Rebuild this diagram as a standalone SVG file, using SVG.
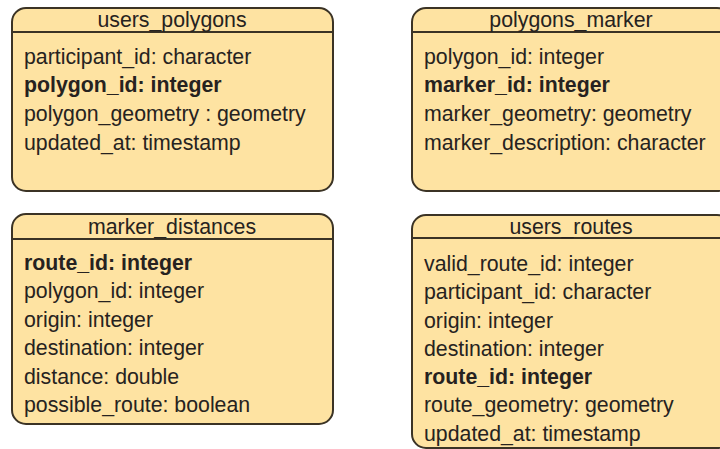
<svg xmlns="http://www.w3.org/2000/svg" width="720" height="449" viewBox="0 0 720 449">
  <style>
    .box { fill: #fee3a2; stroke: #3b3325; stroke-width: 2; }
    .sep { stroke: #3b3325; stroke-width: 2; }
    text { font-family: "Liberation Sans", Arial, sans-serif; font-size: 21.3px; fill: #262220; }
    .title { text-anchor: middle; }
    .key { font-weight: bold; }
  </style>
  <rect width="720" height="449" fill="#ffffff"/>

  <g id="users_polygons">
    <rect class="box" x="12" y="8" width="321" height="183" rx="14" ry="14"/>
    <line class="sep" x1="12" y1="32" x2="333" y2="32"/>
    <text class="title" x="172" y="27">users_polygons</text>
    <text x="24" y="64">participant_id: character</text>
    <text class="key" x="24" y="92">polygon_id: integer</text>
    <text x="24" y="121">polygon_geometry : geometry</text>
    <text x="24" y="150">updated_at: timestamp</text>
  </g>

  <g id="polygons_marker">
    <rect class="box" x="412" y="8" width="319" height="183" rx="14" ry="14"/>
    <line class="sep" x1="412" y1="32" x2="731" y2="32"/>
    <text class="title" x="571" y="27">polygons_marker</text>
    <text x="424" y="64">polygon_id: integer</text>
    <text class="key" x="424" y="92">marker_id: integer</text>
    <text x="424" y="121">marker_geometry: geometry</text>
    <text x="424" y="150">marker_description: character</text>
  </g>

  <g id="marker_distances">
    <rect class="box" x="12" y="214" width="321" height="210" rx="14" ry="14"/>
    <line class="sep" x1="12" y1="239" x2="333" y2="239"/>
    <text class="title" x="172" y="234">marker_distances</text>
    <text class="key" x="24" y="270">route_id: integer</text>
    <text x="24" y="298">polygon_id: integer</text>
    <text x="24" y="327">origin: integer</text>
    <text x="24" y="355">destination: integer</text>
    <text x="24" y="384">distance: double</text>
    <text x="24" y="412">possible_route: boolean</text>
  </g>

  <g id="users_routes">
    <rect class="box" x="412" y="215" width="319" height="233" rx="14" ry="14"/>
    <line class="sep" x1="412" y1="238" x2="731" y2="238"/>
    <text class="title" x="571" y="234">users_routes</text>
    <text x="424" y="271">valid_route_id: integer</text>
    <text x="424" y="299">participant_id: character</text>
    <text x="424" y="328">origin: integer</text>
    <text x="424" y="356">destination: integer</text>
    <text class="key" x="424" y="384">route_id: integer</text>
    <text x="424" y="412">route_geometry: geometry</text>
    <text x="424" y="441">updated_at: timestamp</text>
  </g>

  <g id="connectors"></g>
</svg>
